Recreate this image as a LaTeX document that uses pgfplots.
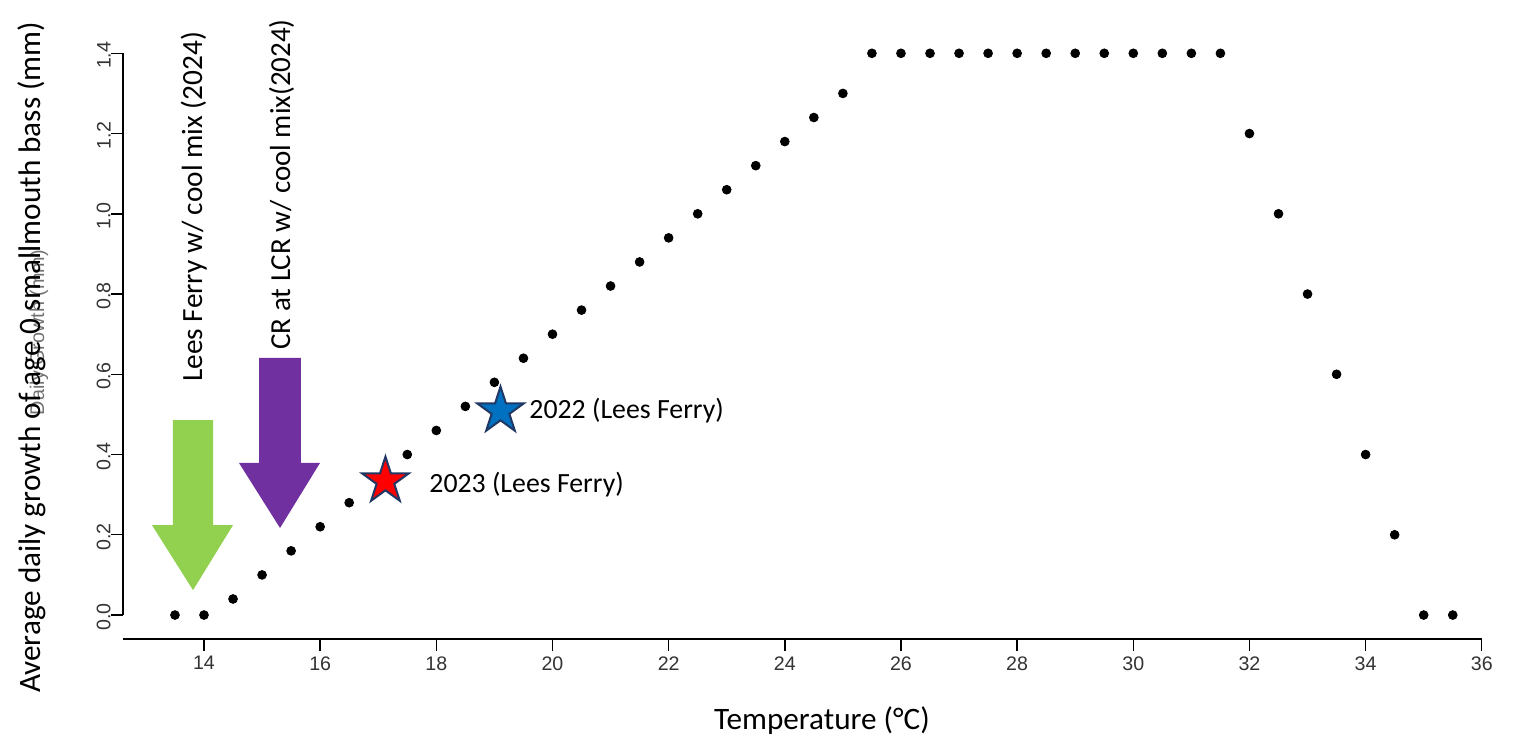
\documentclass[border=0pt]{standalone}
\usepackage{pgfplots}
\pgfplotsset{compat=1.18}
\usepackage{fontspec}
\setmainfont{Carlito}
\newfontfamily\arialf{Liberation Sans}
\definecolor{arrgreen}{HTML}{92D050}
\definecolor{arrpurple}{HTML}{7030A0}
\definecolor{starblue}{HTML}{0070C0}
\definecolor{starred}{HTML}{FF0000}
\definecolor{navy}{HTML}{203864}
\pgfdeclareplotmark{fstar}{%
  \pgfpathmoveto{\pgfpointpolar{90}{\pgfplotmarksize}}%
  \pgfpathlineto{\pgfpointpolar{126}{0.382\pgfplotmarksize}}%
  \pgfpathlineto{\pgfpointpolar{162}{\pgfplotmarksize}}%
  \pgfpathlineto{\pgfpointpolar{198}{0.382\pgfplotmarksize}}%
  \pgfpathlineto{\pgfpointpolar{234}{\pgfplotmarksize}}%
  \pgfpathlineto{\pgfpointpolar{270}{0.382\pgfplotmarksize}}%
  \pgfpathlineto{\pgfpointpolar{306}{\pgfplotmarksize}}%
  \pgfpathlineto{\pgfpointpolar{342}{0.382\pgfplotmarksize}}%
  \pgfpathlineto{\pgfpointpolar{18}{\pgfplotmarksize}}%
  \pgfpathlineto{\pgfpointpolar{54}{0.382\pgfplotmarksize}}%
  \pgfpathclose
  \pgfusepathqfillstroke
}
\begin{document}
\begin{tikzpicture}
\begin{axis}[
  scale only axis, width=679.35pt, height=312.9pt,
  xmin=12.605, xmax=36, ymin=-0.0598, ymax=1.5,
  axis lines*=left,
  y axis line style={draw=none},
  x axis line style={line width=0.7pt},
  tick align=outside, major tick length=6pt,
  tick style={black, line width=0.7pt},
  xtick={14,16,18,20,22,24,26,28,30,32,34,36},
  xticklabels={14,16,18,20,22,24,26,28,30,32,34,36},
  ytick={0,0.2,0.4,0.6,0.8,1.0,1.2,1.4},
  yticklabels={0.0,0.2,0.4,0.6,0.8,1.0,1.2,1.4},
  ticklabel style={font=\arialf\fontsize{9.8}{11}\selectfont, text=black!80, inner sep=0pt},
  xticklabel style={anchor=north, yshift=-2.5pt},
  yticklabel style={rotate=90, anchor=south, xshift=-1pt},
  clip=false,
  xlabel={Temperature (°C)},
  xlabel style={font=\fontsize{15.6}{18}\selectfont, at={(axis description cs:0.5144,-0.1438)}, anchor=base, inner sep=0pt},
  ylabel={Average daily growth of age 0 smallmouth bass (mm)},
  ylabel style={font=\fontsize{15.6}{18}\selectfont, at={(axis description cs:-0.06107,0.4500)}, anchor=base, rotate=0, inner sep=0pt},
]
% manual y axis line (R style: spans ticks only)
\draw[black, line width=0.7pt] (axis cs:12.605,0) -- (axis cs:12.605,1.4);
% arrows
\fill[arrgreen] (axis cs:13.466,0.486) -- (axis cs:14.155,0.486) -- (axis cs:14.155,0.224) -- (axis cs:14.499,0.224) -- (axis cs:13.811,0.062) -- (axis cs:13.105,0.224) -- (axis cs:13.466,0.224) -- cycle;
\fill[arrpurple] (axis cs:14.947,0.641) -- (axis cs:15.670,0.641) -- (axis cs:15.670,0.379) -- (axis cs:15.997,0.379) -- (axis cs:15.309,0.217) -- (axis cs:14.603,0.379) -- (axis cs:14.947,0.379) -- cycle;
% data
\addplot[only marks, mark=*, mark size=2.2pt, black] coordinates {
(13.5,0) (14,0) (14.5,0.04) (15,0.10) (15.5,0.16) (16,0.22) (16.5,0.28) (17,0.34)
(17.5,0.40) (18,0.46) (18.5,0.52) (19,0.58) (19.5,0.64) (20,0.70) (20.5,0.76)
(21,0.82) (21.5,0.88) (22,0.94) (22.5,1.00) (23,1.06) (23.5,1.12) (24,1.18)
(24.5,1.24) (25,1.30) (25.5,1.40) (26,1.40) (26.5,1.40) (27,1.40) (27.5,1.40)
(28,1.40) (28.5,1.40) (29,1.40) (29.5,1.40) (30,1.40) (30.5,1.40) (31,1.40)
(31.5,1.40) (32,1.20) (32.5,1.00) (33,0.80) (33.5,0.60) (34,0.40) (34.5,0.20)
(35,0) (35.5,0)
};
% stars
\addplot[only marks, mark=fstar, mark size=12.2pt, mark options={fill=starred, draw=navy, line width=1pt}] coordinates {(17.124,0.334)};
\addplot[only marks, mark=fstar, mark size=12.2pt, mark options={fill=starblue, draw=navy, line width=1pt}] coordinates {(19.105,0.5085)};
% annotations
\node[anchor=base west, inner sep=0pt, font=\fontsize{13.9}{16}\selectfont] at (axis cs:19.596,0.491) {2022 (Lees Ferry)};
\node[anchor=base west, inner sep=0pt, font=\fontsize{13.9}{16}\selectfont] at (axis cs:17.874,0.3066) {2023 (Lees Ferry)};
\node[rotate=90, anchor=base west, inner sep=0pt, font=\fontsize{14.65}{18}\selectfont] at (axis cs:13.966,0.5808) {Lees Ferry w/ cool mix (2024)};
\node[rotate=90, anchor=base west, inner sep=0pt, font=\fontsize{14.5}{18}\selectfont] at (axis cs:15.481,0.6605) {CR at LCR w/ cool mix(2024)};
\node[rotate=90, anchor=center, inner sep=0pt, text=black!55, font=\arialf\fontsize{9.9}{11}\selectfont] at (axis cs:11.159,0.7041) {Daily Growth (mm)};
\coordinate (bbl) at (axis cs:10.4876,-0.30907);
\coordinate (btr) at (axis cs:36.555,1.53290);
\end{axis}
\pgfresetboundingbox
\path[use as bounding box] (bbl) rectangle (btr);
\end{tikzpicture}
\end{document}
